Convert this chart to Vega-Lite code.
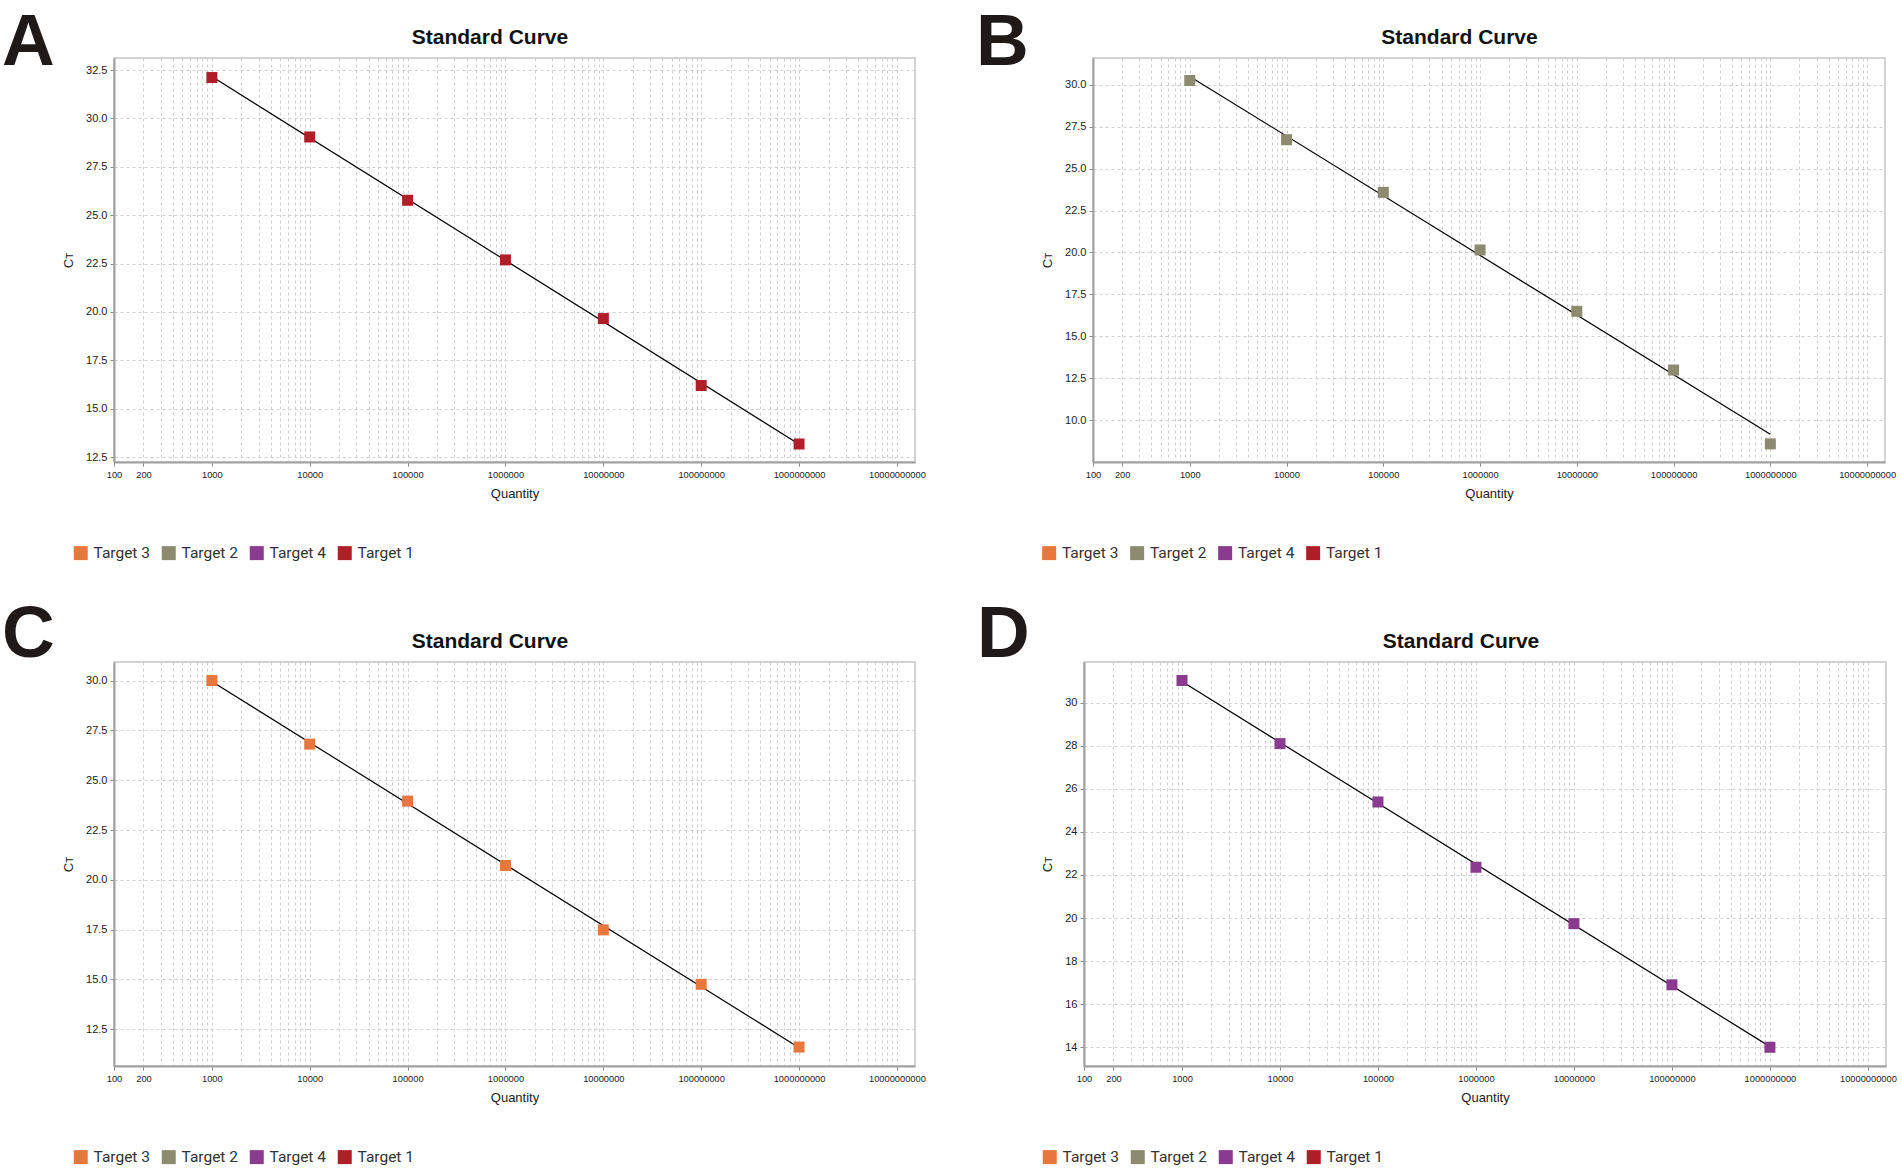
{
  "$schema": "https://vega.github.io/schema/vega-lite/v6.json",
  "background": "white",
  "padding": {"left": 2, "top": 7, "right": 0, "bottom": 0},
  "datasets": {
    "pts": [
      {"panel": "A", "target": "Target 1", "quantity": 1000, "ct": 32.11},
      {"panel": "A", "target": "Target 1", "quantity": 10000, "ct": 29.04},
      {"panel": "A", "target": "Target 1", "quantity": 100000, "ct": 25.77},
      {"panel": "A", "target": "Target 1", "quantity": 1000000, "ct": 22.69},
      {"panel": "A", "target": "Target 1", "quantity": 10000000, "ct": 19.66},
      {"panel": "A", "target": "Target 1", "quantity": 100000000, "ct": 16.2},
      {"panel": "A", "target": "Target 1", "quantity": 1000000000, "ct": 13.18},
      {"panel": "B", "target": "Target 2", "quantity": 1000, "ct": 30.25},
      {"panel": "B", "target": "Target 2", "quantity": 10000, "ct": 26.72},
      {"panel": "B", "target": "Target 2", "quantity": 100000, "ct": 23.58},
      {"panel": "B", "target": "Target 2", "quantity": 1000000, "ct": 20.15},
      {"panel": "B", "target": "Target 2", "quantity": 10000000, "ct": 16.49},
      {"panel": "B", "target": "Target 2", "quantity": 100000000, "ct": 12.99},
      {"panel": "B", "target": "Target 2", "quantity": 1000000000, "ct": 8.59},
      {"panel": "C", "target": "Target 3", "quantity": 1000, "ct": 30.0},
      {"panel": "C", "target": "Target 3", "quantity": 10000, "ct": 26.81},
      {"panel": "C", "target": "Target 3", "quantity": 100000, "ct": 23.95},
      {"panel": "C", "target": "Target 3", "quantity": 1000000, "ct": 20.72},
      {"panel": "C", "target": "Target 3", "quantity": 10000000, "ct": 17.49},
      {"panel": "C", "target": "Target 3", "quantity": 100000000, "ct": 14.76},
      {"panel": "C", "target": "Target 3", "quantity": 1000000000, "ct": 11.61},
      {"panel": "D", "target": "Target 4", "quantity": 1000, "ct": 31.03},
      {"panel": "D", "target": "Target 4", "quantity": 10000, "ct": 28.1},
      {"panel": "D", "target": "Target 4", "quantity": 100000, "ct": 25.39},
      {"panel": "D", "target": "Target 4", "quantity": 1000000, "ct": 22.36},
      {"panel": "D", "target": "Target 4", "quantity": 10000000, "ct": 19.74},
      {"panel": "D", "target": "Target 4", "quantity": 100000000, "ct": 16.9},
      {"panel": "D", "target": "Target 4", "quantity": 1000000000, "ct": 14.0}
    ],
    "fit": [
      {"panel": "A", "quantity": 1000, "ct": 32.16},
      {"panel": "A", "quantity": 1000000000, "ct": 13.17},
      {"panel": "B", "quantity": 1000, "ct": 30.49},
      {"panel": "B", "quantity": 1000000000, "ct": 9.16},
      {"panel": "C", "quantity": 1000, "ct": 29.95},
      {"panel": "C", "quantity": 1000000000, "ct": 11.58},
      {"panel": "D", "quantity": 1000, "ct": 30.98},
      {"panel": "D", "quantity": 1000000000, "ct": 14.03}
    ]
  },
  "spacing": 36,
  "resolve": {"scale": {"color": "independent"}, "legend": {"color": "independent"}},
  "vconcat": [
    {
      "spacing": 49,
      "resolve": {"scale": {"color": "independent"}, "legend": {"color": "independent"}},
      "hconcat": [
        {
          "title": {"text": "A", "anchor": "start", "frame": "group", "fontSize": 73, "font": "Liberation Sans", "fontWeight": "bold", "color": "#1f1a17", "dx": -112, "offset": -54},
          "resolve": {"scale": {"color": "independent"}, "legend": {"color": "independent"}},
          "vconcat": [
            {
              "width": 801,
              "height": 404,
              "title": {"text": "Standard Curve", "frame": "bounds", "anchor": "middle", "fontSize": 21, "font": "Liberation Sans", "fontWeight": "bold", "color": "#111111", "offset": 10, "dx": -4},
              "layer": [
                {
                  "data": {"name": "fit"},
                  "transform": [{"filter": "datum.panel == 'A'"}],
                  "mark": {"type": "line", "color": "#000000", "strokeWidth": 1.2},
                  "encoding": {
                    "x": {"field": "quantity", "type": "quantitative", "scale": {"type": "log", "domain": [100, 15300000000], "nice": false},
                      "axis": {"title": "Quantity", "values": [100,200,300,400,500,600,700,800,900,1000,2000,3000,4000,5000,6000,7000,8000,9000,10000,20000,30000,40000,50000,60000,70000,80000,90000,100000,200000,300000,400000,500000,600000,700000,800000,900000,1000000,2000000,3000000,4000000,5000000,6000000,7000000,8000000,9000000,10000000,20000000,30000000,40000000,50000000,60000000,70000000,80000000,90000000,100000000,200000000,300000000,400000000,500000000,600000000,700000000,800000000,900000000,1000000000,2000000000,3000000000,4000000000,5000000000,6000000000,7000000000,8000000000,9000000000,10000000000],
                        "labelExpr": "indexof([100,200,1000,10000,100000,1000000,10000000,100000000,1000000000,10000000000], datum.value) >= 0 ? format(datum.value, 'd') : ''",
                        "tickOpacity": {"condition": {"test": "indexof([100,200,1000,10000,100000,1000000,10000000,100000000,1000000000,10000000000], datum.value) >= 0", "value": 1}, "value": 0}}},
                    "y": {"field": "ct", "type": "quantitative", "scale": {"domain": [12.25, 33.12], "nice": false, "zero": false},
                      "axis": {"title": "Cᴛ", "values": [12.5, 15, 17.5, 20, 22.5, 25, 27.5, 30, 32.5], "format": ".1f"}}
                  }
                },
                {
                  "data": {"name": "pts"},
                  "transform": [{"filter": "datum.panel == 'A'"}],
                  "mark": {"type": "square", "size": 121, "opacity": 1},
                  "encoding": {
                    "x": {"field": "quantity", "type": "quantitative"},
                    "y": {"field": "ct", "type": "quantitative"},
                    "color": {"field": "target", "type": "nominal", "scale": {"domain": ["Target 3", "Target 2", "Target 4", "Target 1"], "range": ["#e8773e", "#8c8b70", "#8a3a8f", "#b01f28"]},
                      "legend": {"orient": "none", "legendX": -41, "legendY": 487}}
                  }
                }
              ]
            }
          ]
        },
        {
          "title": {"text": "B", "anchor": "start", "frame": "group", "fontSize": 73, "font": "Liberation Sans", "fontWeight": "bold", "color": "#1f1a17", "dx": -117, "offset": -54},
          "resolve": {"scale": {"color": "independent"}, "legend": {"color": "independent"}},
          "vconcat": [
            {
              "width": 792,
              "height": 404,
              "title": {"text": "Standard Curve", "frame": "bounds", "anchor": "middle", "fontSize": 21, "font": "Liberation Sans", "fontWeight": "bold", "color": "#111111", "offset": 10, "dx": -9},
              "layer": [
                {
                  "data": {"name": "fit"},
                  "transform": [{"filter": "datum.panel == 'B'"}],
                  "mark": {"type": "line", "color": "#000000", "strokeWidth": 1.2},
                  "encoding": {
                    "x": {"field": "quantity", "type": "quantitative", "scale": {"type": "log", "domain": [100, 15300000000], "nice": false},
                      "axis": {"title": "Quantity", "values": [100,200,300,400,500,600,700,800,900,1000,2000,3000,4000,5000,6000,7000,8000,9000,10000,20000,30000,40000,50000,60000,70000,80000,90000,100000,200000,300000,400000,500000,600000,700000,800000,900000,1000000,2000000,3000000,4000000,5000000,6000000,7000000,8000000,9000000,10000000,20000000,30000000,40000000,50000000,60000000,70000000,80000000,90000000,100000000,200000000,300000000,400000000,500000000,600000000,700000000,800000000,900000000,1000000000,2000000000,3000000000,4000000000,5000000000,6000000000,7000000000,8000000000,9000000000,10000000000],
                        "labelExpr": "indexof([100,200,1000,10000,100000,1000000,10000000,100000000,1000000000,10000000000], datum.value) >= 0 ? format(datum.value, 'd') : ''",
                        "tickOpacity": {"condition": {"test": "indexof([100,200,1000,10000,100000,1000000,10000000,100000000,1000000000,10000000000], datum.value) >= 0", "value": 1}, "value": 0}}},
                    "y": {"field": "ct", "type": "quantitative", "scale": {"domain": [7.51, 31.59], "nice": false, "zero": false},
                      "axis": {"title": "Cᴛ", "values": [10, 12.5, 15, 17.5, 20, 22.5, 25, 27.5, 30], "format": ".1f"}}
                  }
                },
                {
                  "data": {"name": "pts"},
                  "transform": [{"filter": "datum.panel == 'B'"}],
                  "mark": {"type": "square", "size": 121, "opacity": 1},
                  "encoding": {
                    "x": {"field": "quantity", "type": "quantitative"},
                    "y": {"field": "ct", "type": "quantitative"},
                    "color": {"field": "target", "type": "nominal", "scale": {"domain": ["Target 3", "Target 2", "Target 4", "Target 1"], "range": ["#e8773e", "#8c8b70", "#8a3a8f", "#b01f28"]},
                      "legend": {"orient": "none", "legendX": -51.6, "legendY": 487}}
                  }
                }
              ]
            }
          ]
        }
      ]
    },
    {
      "spacing": 50,
      "resolve": {"scale": {"color": "independent"}, "legend": {"color": "independent"}},
      "hconcat": [
        {
          "title": {"text": "C", "anchor": "start", "frame": "group", "fontSize": 73, "font": "Liberation Sans", "fontWeight": "bold", "color": "#1f1a17", "dx": -112, "offset": -42},
          "resolve": {"scale": {"color": "independent"}, "legend": {"color": "independent"}},
          "vconcat": [
            {
              "width": 801,
              "height": 404,
              "title": {"text": "Standard Curve", "frame": "bounds", "anchor": "middle", "fontSize": 21, "font": "Liberation Sans", "fontWeight": "bold", "color": "#111111", "offset": 10, "dx": -4},
              "layer": [
                {
                  "data": {"name": "fit"},
                  "transform": [{"filter": "datum.panel == 'C'"}],
                  "mark": {"type": "line", "color": "#000000", "strokeWidth": 1.2},
                  "encoding": {
                    "x": {"field": "quantity", "type": "quantitative", "scale": {"type": "log", "domain": [100, 15300000000], "nice": false},
                      "axis": {"title": "Quantity", "values": [100,200,300,400,500,600,700,800,900,1000,2000,3000,4000,5000,6000,7000,8000,9000,10000,20000,30000,40000,50000,60000,70000,80000,90000,100000,200000,300000,400000,500000,600000,700000,800000,900000,1000000,2000000,3000000,4000000,5000000,6000000,7000000,8000000,9000000,10000000,20000000,30000000,40000000,50000000,60000000,70000000,80000000,90000000,100000000,200000000,300000000,400000000,500000000,600000000,700000000,800000000,900000000,1000000000,2000000000,3000000000,4000000000,5000000000,6000000000,7000000000,8000000000,9000000000,10000000000],
                        "labelExpr": "indexof([100,200,1000,10000,100000,1000000,10000000,100000000,1000000000,10000000000], datum.value) >= 0 ? format(datum.value, 'd') : ''",
                        "tickOpacity": {"condition": {"test": "indexof([100,200,1000,10000,100000,1000000,10000000,100000000,1000000000,10000000000], datum.value) >= 0", "value": 1}, "value": 0}}},
                    "y": {"field": "ct", "type": "quantitative", "scale": {"domain": [10.66, 30.93], "nice": false, "zero": false},
                      "axis": {"title": "Cᴛ", "values": [12.5, 15, 17.5, 20, 22.5, 25, 27.5, 30], "format": ".1f"}}
                  }
                },
                {
                  "data": {"name": "pts"},
                  "transform": [{"filter": "datum.panel == 'C'"}],
                  "mark": {"type": "square", "size": 121, "opacity": 1},
                  "encoding": {
                    "x": {"field": "quantity", "type": "quantitative"},
                    "y": {"field": "ct", "type": "quantitative"},
                    "color": {"field": "target", "type": "nominal", "scale": {"domain": ["Target 3", "Target 2", "Target 4", "Target 1"], "range": ["#e8773e", "#8c8b70", "#8a3a8f", "#b01f28"]},
                      "legend": {"orient": "none", "legendX": -41, "legendY": 487}}
                  }
                }
              ]
            }
          ]
        },
        {
          "title": {"text": "D", "anchor": "start", "frame": "group", "fontSize": 73, "font": "Liberation Sans", "fontWeight": "bold", "color": "#1f1a17", "dx": -107, "offset": -42},
          "resolve": {"scale": {"color": "independent"}, "legend": {"color": "independent"}},
          "vconcat": [
            {
              "width": 802,
              "height": 404,
              "title": {"text": "Standard Curve", "frame": "bounds", "anchor": "middle", "fontSize": 21, "font": "Liberation Sans", "fontWeight": "bold", "color": "#111111", "offset": 10, "dx": -8},
              "layer": [
                {
                  "data": {"name": "fit"},
                  "transform": [{"filter": "datum.panel == 'D'"}],
                  "mark": {"type": "line", "color": "#000000", "strokeWidth": 1.2},
                  "encoding": {
                    "x": {"field": "quantity", "type": "quantitative", "scale": {"type": "log", "domain": [100, 15300000000], "nice": false},
                      "axis": {"title": "Quantity", "values": [100,200,300,400,500,600,700,800,900,1000,2000,3000,4000,5000,6000,7000,8000,9000,10000,20000,30000,40000,50000,60000,70000,80000,90000,100000,200000,300000,400000,500000,600000,700000,800000,900000,1000000,2000000,3000000,4000000,5000000,6000000,7000000,8000000,9000000,10000000,20000000,30000000,40000000,50000000,60000000,70000000,80000000,90000000,100000000,200000000,300000000,400000000,500000000,600000000,700000000,800000000,900000000,1000000000,2000000000,3000000000,4000000000,5000000000,6000000000,7000000000,8000000000,9000000000,10000000000],
                        "labelExpr": "indexof([100,200,1000,10000,100000,1000000,10000000,100000000,1000000000,10000000000], datum.value) >= 0 ? format(datum.value, 'd') : ''",
                        "tickOpacity": {"condition": {"test": "indexof([100,200,1000,10000,100000,1000000,10000000,100000000,1000000000,10000000000], datum.value) >= 0", "value": 1}, "value": 0}}},
                    "y": {"field": "ct", "type": "quantitative", "scale": {"domain": [13.13, 31.89], "nice": false, "zero": false},
                      "axis": {"title": "Cᴛ", "values": [14, 15, 16, 17, 18, 19, 20, 21, 22, 23, 24, 25, 26, 27, 28, 29, 30, 31], "format": "d"}}
                  }
                },
                {
                  "data": {"name": "pts"},
                  "transform": [{"filter": "datum.panel == 'D'"}],
                  "mark": {"type": "square", "size": 121, "opacity": 1},
                  "encoding": {
                    "x": {"field": "quantity", "type": "quantitative"},
                    "y": {"field": "ct", "type": "quantitative"},
                    "color": {"field": "target", "type": "nominal", "scale": {"domain": ["Target 3", "Target 2", "Target 4", "Target 1"], "range": ["#e8773e", "#8c8b70", "#8a3a8f", "#b01f28"]},
                      "legend": {"orient": "none", "legendX": -42, "legendY": 487}}
                  }
                }
              ]
            }
          ]
        }
      ]
    }
  ],
  "config": {
    "font": "Liberation Sans",
    "view": {"stroke": "#c4c4c4", "strokeWidth": 1.5},
    "axis": {
      "grid": true,
      "gridColor": "#cfcfcf",
      "gridDash": [3, 3],
      "gridWidth": 1,
      "domainColor": "#a0a0a0",
      "domainWidth": 2,
      "tickColor": "#888888",
      "tickSize": 4,
      "labelColor": "#222222",
      "labelFont": "Liberation Sans",
      "labelOverlap": false,
      "titleFont": "Liberation Sans",
      "titleFontWeight": "normal",
      "titleFontSize": 13,
      "titleColor": "#222222"
    },
    "axisX": {"labelFontSize": 9.3, "labelPadding": 4, "titlePadding": 8, "labelFlush": false},
    "axisY": {"labelFontSize": 11, "labelPadding": 3, "titlePadding": 10},
    "legend": {
      "direction": "horizontal",
      "title": null,
      "symbolType": "square",
      "symbolSize": 196,
      "symbolStrokeWidth": 0,
      "symbolOpacity": 1,
      "labelFontSize": 15.5,
      "labelFont": "Roboto",
      "labelColor": "#333333",
      "labelOffset": 5,
      "columnPadding": 11
    }
  }
}
